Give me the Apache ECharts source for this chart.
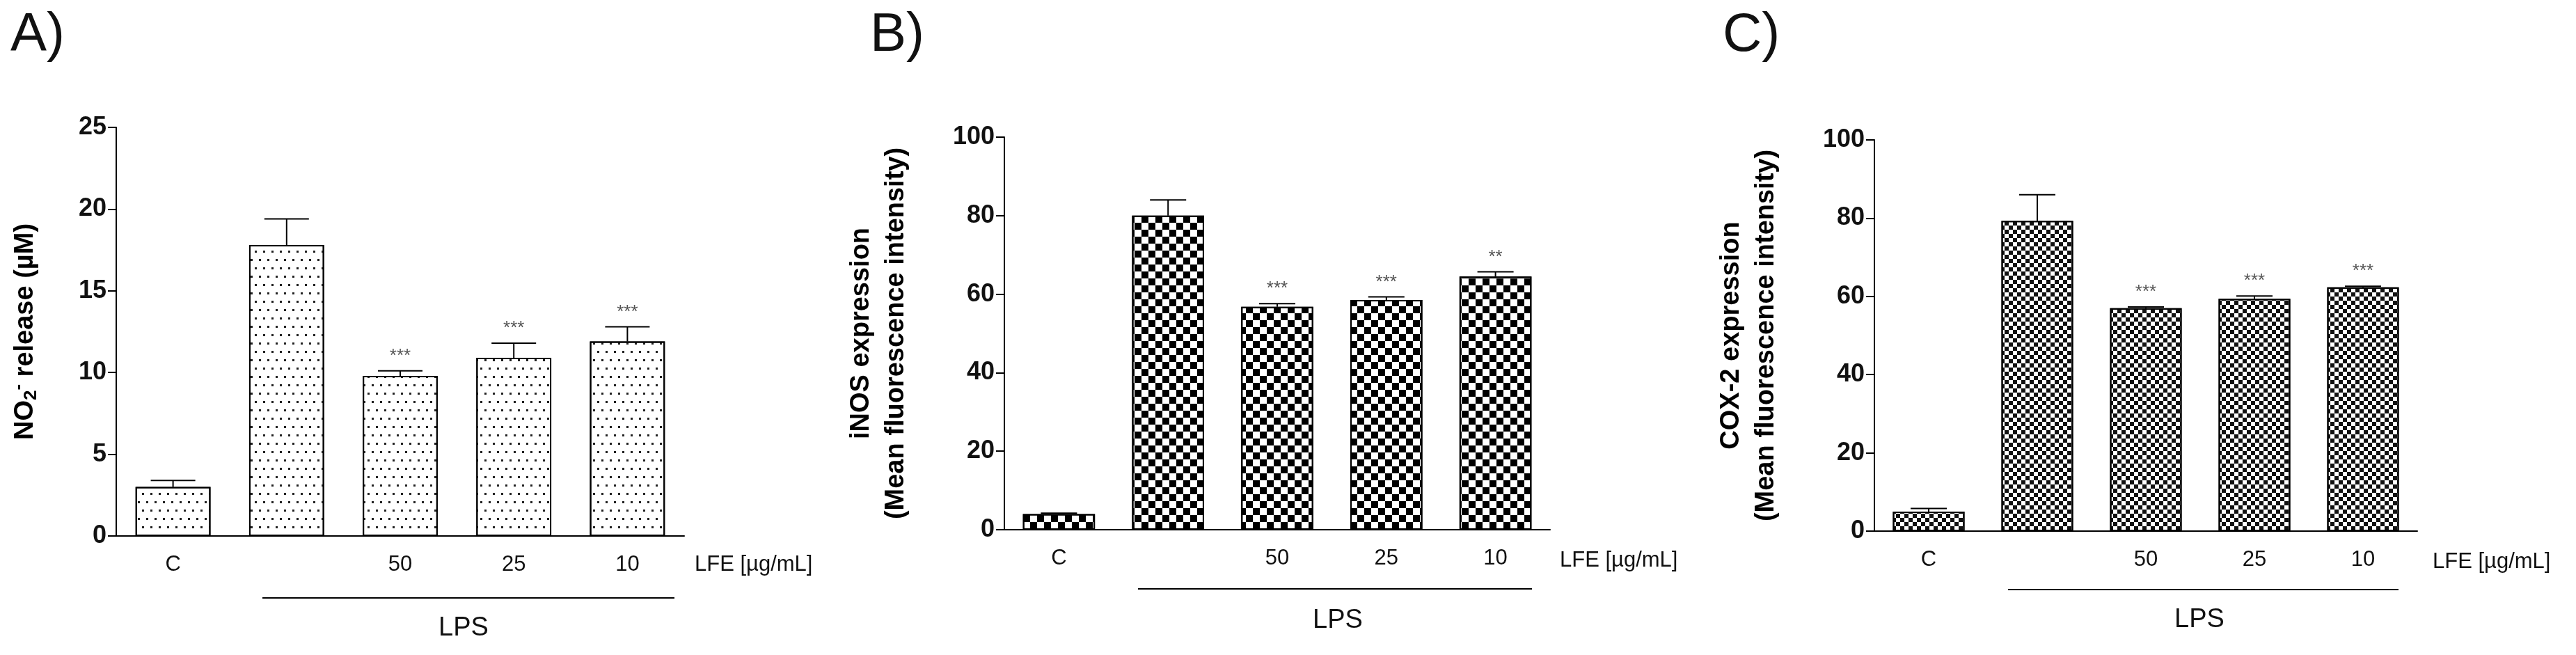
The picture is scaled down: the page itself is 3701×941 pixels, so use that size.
<!DOCTYPE html>
<html><head><meta charset="utf-8">
<script src="https://cdn.jsdelivr.net/npm/echarts@6/dist/echarts.min.js"></script>
<style>html,body{margin:0;padding:0;background:#fff}#c{width:3701px;height:941px}</style>
</head><body><div id="c"></div>
<script>
const categories = ['C', '', '50', '25', '10'];
const no2Values = [3.0, 17.8, 9.8, 10.9, 11.9];
const no2Err = [0.4, 1.6, 0.3, 0.9, 0.9];
const no2Stars = ['', '', '***', '***', '***'];
const inosValues = [4.0, 80.0, 56.8, 58.5, 64.5];
const inosErr = [0.2, 4.0, 0.8, 0.8, 1.2];
const inosStars = ['', '', '***', '***', '**'];
const coxValues = [5.0, 79.3, 57.0, 59.4, 62.3];
const coxErr = [0.8, 6.7, 0.3, 0.7, 0.3];
const coxStars = ['', '', '***', '***', '***'];
const yTicksA = [0, 5, 10, 15, 20, 25];
const yTicksBC = [0, 20, 40, 60, 80, 100];

const FN = "'Liberation Sans Narrow','Arial Narrow','Liberation Sans',Arial,sans-serif";
const FB = "'Liberation Sans',Arial,sans-serif";
const chart = echarts.init(document.getElementById('c'));

const panels = [
  {grid:{left:167,top:183,width:816,height:587}, max:25, interval:5, vals:no2Values, err:no2Err, stars:no2Stars, capW:64,
   decal:{symbol:'rect',symbolSize:1,dashArrayX:[[3,9],[0,6,3,3]],dashArrayY:[3,9],color:'#222'},
   name:'{b|NO}{s|2}{p|-}{b| release (µM)}', nameGap:105},
  {grid:{left:1443,top:197,width:784,height:564}, max:100, interval:20, vals:inosValues, err:inosErr, stars:inosStars, capW:52,
   decal:{symbol:'rect',symbolSize:1,dashArrayX:[[10,10],[0,10,10,0]],dashArrayY:[10,0],color:'#000'},
   name:'{b|iNOS expression}\n{b|(Mean fluorescence intensity)}', nameGap:130},
  {grid:{left:2693,top:201,width:780,height:562}, max:100, interval:20, vals:coxValues, err:coxErr, stars:coxStars, capW:52,
   decal:{symbol:'rect',symbolSize:1,dashArrayX:[[6,6],[0,6,6,0]],dashArrayY:[6,0],color:'#111'},
   name:'{b|COX-2 expression}\n{b|(Mean fluorescence intensity)}', nameGap:130}
];

const option = {animation:false, backgroundColor:'#fff', grid:[], xAxis:[], yAxis:[], series:[], graphic:[]};
panels.forEach((p,i)=>{
  option.grid.push(p.grid);
  option.xAxis.push({type:'category', gridIndex:i, data:categories,
    axisLine:{lineStyle:{color:'#000',width:2}},
    axisTick:{alignWithLabel:true, length:18, lineStyle:{color:'#000',width:2}},
    axisLabel:{fontFamily:FN, fontSize:31, color:'#111', margin:26}});
  option.yAxis.push({type:'value', gridIndex:i, min:0, max:p.max, interval:p.interval,
    splitLine:{show:false},
    axisLine:{show:true, lineStyle:{color:'#000',width:2}},
    axisTick:{show:true, length:12, lineStyle:{color:'#000',width:2}},
    axisLabel:{fontFamily:FN, fontWeight:'bold', fontSize:36, color:'#111', margin:14},
    name:p.name, nameLocation:'middle', nameGap:p.nameGap, nameRotate:90,
    nameTextStyle:{lineHeight:50, rich:{
      b:{fontFamily:FB, fontWeight:'bold', fontSize:38, color:'#000', lineHeight:50},
      s:{fontFamily:FB, fontWeight:'bold', fontSize:26, color:'#000', padding:[16,0,0,0]},
      p:{fontFamily:FB, fontWeight:'bold', fontSize:26, color:'#000', padding:[0,0,20,0]}}}});
  option.series.push({type:'bar', xAxisIndex:i, yAxisIndex:i, data:p.vals, barWidth:'66%',
    itemStyle:{color:'#fff', borderColor:'#000', borderWidth:2, decal:p.decal}});
  option.series.push({type:'custom', xAxisIndex:i, yAxisIndex:i, z:5,
    data:p.vals.map((v,k)=>[k, v, p.err[k]]),
    renderItem:(params, api)=>{
      const k = api.value(0), v = api.value(1), e = api.value(2);
      const b = api.coord([k, v]); const t = api.coord([k, v+e]);
      const star = p.stars[k];
      const ch = [
        {type:'line', shape:{x1:b[0],y1:b[1],x2:t[0],y2:t[1]}, style:{stroke:'#000',lineWidth:2}},
        {type:'line', shape:{x1:t[0]-p.capW/2,y1:t[1],x2:t[0]+p.capW/2,y2:t[1]}, style:{stroke:'#000',lineWidth:2}}
      ];
      if (star) ch.push({type:'text', style:{text:star, x:t[0], y:t[1]-8, align:'center', verticalAlign:'bottom',
        font:"26px 'Liberation Sans',Arial,sans-serif", fill:'#555'}});
      return {type:'group', children:ch};
    }});
});

const letters = [['A)',15],['B)',1250],['C)',2475]];
letters.forEach(l=>option.graphic.push({type:'text', left:l[1], top:12,
  style:{text:l[0], font:"78px 'Liberation Sans Narrow','Liberation Sans',sans-serif", fill:'#111'}}));
const lfe = [[998,816],[2241,810],[3495,812]];
lfe.forEach(l=>option.graphic.push({type:'text', left:l[0], top:l[1]-20,
  style:{text:'LFE [µg/mL]', font:"31px "+FN, fill:'#111'}}));
const lps = [[377,969,859,666,903],[1635,2201,846,1922,892],[2885,3446,847,3160,891]];
lps.forEach(l=>{
  option.graphic.push({type:'line', shape:{x1:l[0],y1:l[2],x2:l[1],y2:l[2]}, style:{stroke:'#000',lineWidth:2}});
  option.graphic.push({type:'text', x:l[3], y:l[4], style:{text:'LPS', font:"38px "+FN, fill:'#111', align:'center', verticalAlign:'middle'}});
});
chart.setOption(option);
</script></body></html>
